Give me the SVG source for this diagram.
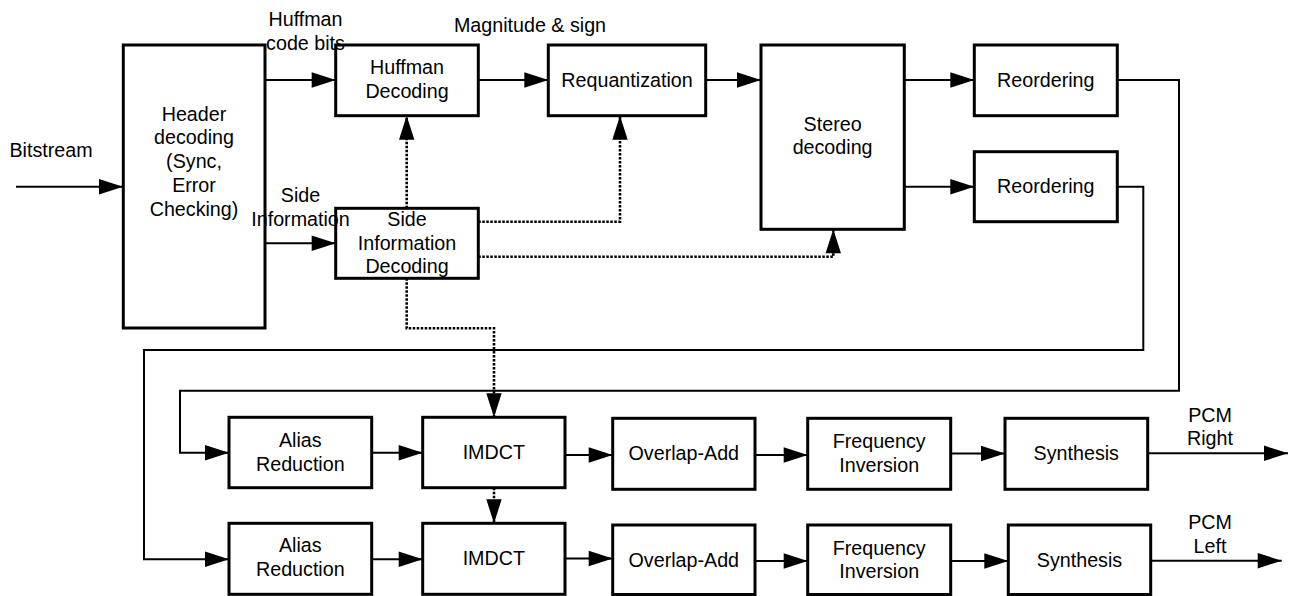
<svg xmlns="http://www.w3.org/2000/svg" width="1290" height="596" viewBox="0 0 1290 596">
<style>
.box{fill:#fff;stroke:#000;stroke-width:3}
text{font-family:"Liberation Sans",Arial,sans-serif;font-size:19.7px;fill:#000;text-anchor:middle}
.c{fill:none;stroke:#000;stroke-width:2}
.d{fill:none;stroke:#000;stroke-width:2.6;stroke-dasharray:2.5 1.5}
</style>
<defs>
<marker id="ah" markerUnits="userSpaceOnUse" markerWidth="25" markerHeight="16" refX="24" refY="7.7" orient="auto" overflow="visible">
<path d="M0,0 L24,7.7 L0,15.4 z" fill="#000" stroke="none"/>
</marker>
</defs>
<rect width="1290" height="596" fill="#fff"/>
<g id="connectors">
<path class="c" d="M16,186.7 H123" marker-end="url(#ah)"/>
<path class="c" d="M265,80 H335.7" marker-end="url(#ah)"/>
<path class="c" d="M265,243.3 H335.7" marker-end="url(#ah)"/>
<path class="c" d="M478.3,80 H548.3" marker-end="url(#ah)"/>
<path class="c" d="M705.7,80 H761" marker-end="url(#ah)"/>
<path class="c" d="M904.3,80 H974.3" marker-end="url(#ah)"/>
<path class="c" d="M904.3,186.7 H974.3" marker-end="url(#ah)"/>
<path class="c" d="M1117.3,80 H1179 V390.7 H180 V452.7 H229" marker-end="url(#ah)"/>
<path class="c" d="M1117.3,186.7 H1143.3 V350 H144 V559.3 H229" marker-end="url(#ah)"/>
<path class="c" d="M371.7,452.7 H422.7" marker-end="url(#ah)"/>
<path class="c" d="M371.7,559.3 H422.7" marker-end="url(#ah)"/>
<path class="c" d="M565,455 H612.7" marker-end="url(#ah)"/>
<path class="c" d="M565,558.5 H612.7" marker-end="url(#ah)"/>
<path class="c" d="M755,455 H807.7" marker-end="url(#ah)"/>
<path class="c" d="M755,561 H807.7" marker-end="url(#ah)"/>
<path class="c" d="M950.7,453.5 H1005" marker-end="url(#ah)"/>
<path class="c" d="M950.7,561 H1008.3" marker-end="url(#ah)"/>
<path class="c" d="M1147.7,453.3 H1288" marker-end="url(#ah)"/>
<path class="c" d="M1150.7,560.7 H1281.7" marker-end="url(#ah)"/>
<path class="d" d="M406.7,208.3 V115.7" marker-end="url(#ah)"/>
<path class="d" d="M478.3,221.7 H620 V115.7" marker-end="url(#ah)"/>
<path class="d" d="M478.3,256.7 H833.3 V229.3" marker-end="url(#ah)"/>
<path class="d" d="M406.7,278.3 V328.3 H494 V417.3" marker-end="url(#ah)"/>
<path class="d" d="M494,487.7 V523.3" marker-end="url(#ah)"/>
</g>
<g id="header">
<rect class="box" x="123.3" y="45" width="141.7" height="283"/>
<text x="194" y="120.7">Header</text>
<text x="194" y="144.3">decoding</text>
<text x="194" y="168">(Sync,</text>
<text x="194" y="192.2">Error</text>
<text x="194" y="216">Checking)</text>
</g>
<g id="huffman">
<rect class="box" x="335.7" y="45" width="142.6" height="70.7"/>
<text x="407" y="74">Huffman</text>
<text x="407" y="97.7">Decoding</text>
</g>
<g id="sideinfo">
<rect class="box" x="335.7" y="208.3" width="142.6" height="70"/>
<text x="407" y="225.7">Side</text>
<text x="407" y="250">Information</text>
<text x="407" y="273.3">Decoding</text>
</g>
<g id="requant">
<rect class="box" x="548.3" y="45" width="157.4" height="70.7"/>
<text x="627" y="87">Requantization</text>
</g>
<g id="stereo">
<rect class="box" x="761" y="45" width="143.3" height="184.3"/>
<text x="832.6" y="131">Stereo</text>
<text x="832.6" y="154">decoding</text>
</g>
<g id="reorder1">
<rect class="box" x="974.3" y="45" width="143" height="70.7"/>
<text x="1045.8" y="86.7">Reordering</text>
</g>
<g id="reorder2">
<rect class="box" x="974.3" y="151.7" width="143" height="70"/>
<text x="1045.8" y="192.7">Reordering</text>
</g>
<g id="alias1">
<rect class="box" x="229" y="417.3" width="142.7" height="70.4"/>
<text x="300.3" y="446.7">Alias</text>
<text x="300.3" y="470.7">Reduction</text>
</g>
<g id="imdct1">
<rect class="box" x="422.7" y="417.3" width="142.3" height="70.4"/>
<text x="493.8" y="459.3">IMDCT</text>
</g>
<g id="overlap1">
<rect class="box" x="612.7" y="418.3" width="142.3" height="71"/>
<text x="683.8" y="460">Overlap-Add</text>
</g>
<g id="freq1">
<rect class="box" x="807.7" y="418.3" width="143" height="71"/>
<text x="879.2" y="448">Frequency</text>
<text x="879.2" y="471.7">Inversion</text>
</g>
<g id="synth1">
<rect class="box" x="1005" y="418.3" width="142.7" height="71"/>
<text x="1076.3" y="460">Synthesis</text>
</g>
<g id="alias2">
<rect class="box" x="229" y="523.3" width="142.7" height="71"/>
<text x="300.3" y="551.7">Alias</text>
<text x="300.3" y="575.7">Reduction</text>
</g>
<g id="imdct2">
<rect class="box" x="422.7" y="523.3" width="142.3" height="71"/>
<text x="493.8" y="565">IMDCT</text>
</g>
<g id="overlap2">
<rect class="box" x="612.7" y="525" width="142.3" height="69.5"/>
<text x="683.8" y="566.7">Overlap-Add</text>
</g>
<g id="freq2">
<rect class="box" x="807.7" y="525" width="143" height="69.5"/>
<text x="879.2" y="555">Frequency</text>
<text x="879.2" y="578.3">Inversion</text>
</g>
<g id="synth2">
<rect class="box" x="1008.3" y="525" width="142.4" height="69.5"/>
<text x="1079.5" y="566.7">Synthesis</text>
</g>
<g id="labels">
<text x="51" y="157">Bitstream</text>
<text x="305.5" y="26">Huffman</text>
<text x="305.5" y="50">code bits</text>
<text x="530" y="32">Magnitude &amp; sign</text>
<text x="300.5" y="201.7">Side</text>
<text x="300.5" y="225.7">Information</text>
<text x="1210" y="421.7">PCM</text>
<text x="1210" y="445">Right</text>
<text x="1210" y="529.3">PCM</text>
<text x="1210" y="553.3">Left</text>
</g>
</svg>
